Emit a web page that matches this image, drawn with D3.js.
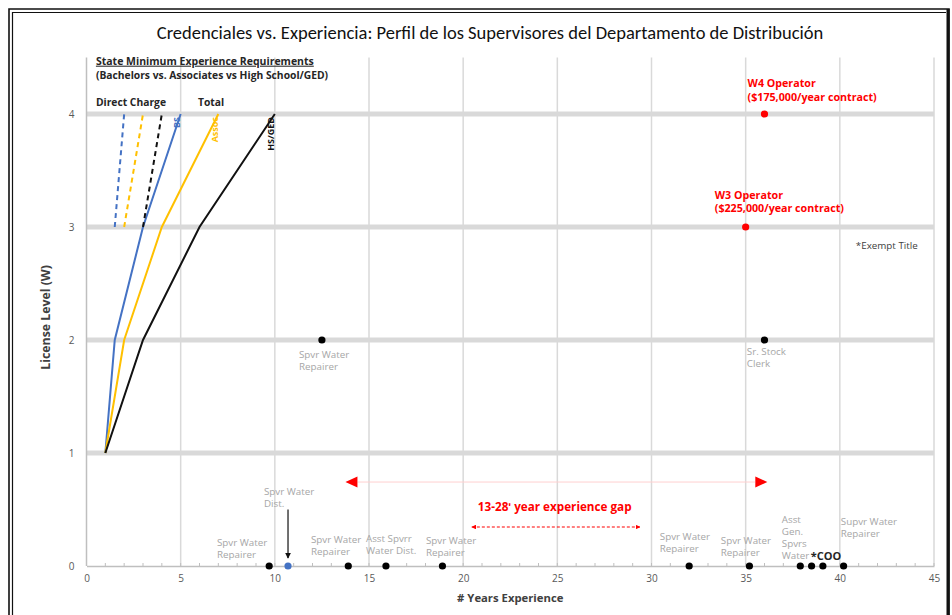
<!DOCTYPE html>
<html>
<head>
<meta charset="utf-8">
<script src="https://cdn.jsdelivr.net/npm/d3@7"></script>
<style>
  body { margin: 0; background: #fff; }
  svg text { font-family: "Open Sans", sans-serif; }
</style>
</head>
<body>
<div id="chart"></div>
<script>
// ---- data ----
var xTicks = [0, 5, 10, 15, 20, 25, 30, 35, 40, 45];
var yTicks = [0, 1, 2, 3, 4];

// total years needed per license level (solid lines)
var levels = [1, 2, 3, 4];
var bachelorsTotal = [1, 1.5, 3, 5];
var associatesTotal = [1, 2, 4, 7];
var hsGedTotal = [1, 3, 6, 10];

// direct charge (dashed lines, level 3 -> 4)
var dcLevels = [3, 4];
var bachelorsDirect = [1.5, 2];
var associatesDirect = [2, 3];
var hsGedDirect = [3, 4];

// supervisors: years of experience and license level
var supYears = [9.7, 10.7, 13.9, 15.9, 18.9, 32, 35.2, 37.9, 38.5, 39.1, 40.2, 12.5, 36];
var supLevel = [0, 0, 0, 0, 0, 0, 0, 0, 0, 0, 0, 2, 2];
var supColor = ["#000", "#4472c4", "#000", "#000", "#000", "#000", "#000", "#000", "#000", "#000", "#000", "#000", "#000"];

// contract operators
var opYears = [36, 35];
var opLevel = [4, 3];

var w = 952, h = 615;

var svg = d3.select("#chart").append("svg")
  .attr("width", w)
  .attr("height", h);

var xScale = d3.scaleLinear().domain([0, 45]).range([86.5, 934]);
var yScale = d3.scaleLinear().domain([0, 4.5]).range([566, 57.5]);

// frame
svg.append("path").attr("d", "M9,615 V9 H949 V615").attr("fill", "none").attr("stroke", "#111").attr("stroke-width", 1.6);
svg.append("path").attr("d", "M12.5,615 V12.5 H946").attr("fill", "none").attr("stroke", "#111").attr("stroke-width", 1.2);
svg.append("line").attr("x1", 948).attr("x2", 948).attr("y1", 9).attr("y2", 615).attr("stroke", "#111").attr("stroke-width", 3);

// title
svg.append("text")
  .text("Credenciales vs. Experiencia: Perfil de los Supervisores del Departamento de Distribución")
  .attr("x", 490).attr("y", 39)
  .attr("text-anchor", "middle")
  .style("font-family", "Carlito, 'Open Sans', sans-serif")
  .attr("font-size", "18.5px")
  .attr("fill", "#111");

// vertical grid
svg.append("g").selectAll("line").data(xTicks.slice(1)).enter().append("line")
  .attr("x1", function(d) { return xScale(d); })
  .attr("x2", function(d) { return xScale(d); })
  .attr("y1", yScale(4.5)).attr("y2", yScale(0))
  .attr("stroke", "#d9d9d9").attr("stroke-width", 1.5);

// horizontal thick grid
svg.append("g").selectAll("line").data(yTicks.slice(1)).enter().append("line")
  .attr("x1", xScale(0)).attr("x2", xScale(45))
  .attr("y1", function(d) { return yScale(d); })
  .attr("y2", function(d) { return yScale(d); })
  .attr("stroke", "#d9d9d9").attr("stroke-width", 5);

// axes
var xAxis = d3.axisBottom(xScale).tickValues(xTicks).tickSize(0).tickPadding(9);
var gx = svg.append("g").attr("transform", "translate(0," + yScale(0) + ")").call(xAxis);
gx.select(".domain").attr("stroke", "#bfbfbf").attr("stroke-width", 1.5);
gx.selectAll("text").attr("font-size", "10px").attr("fill", "#595959");

// minor ticks pointing up
svg.append("g").selectAll("line").data(d3.range(0, 46)).enter().append("line")
  .attr("x1", function(d) { return xScale(d); })
  .attr("x2", function(d) { return xScale(d); })
  .attr("y1", yScale(0)).attr("y2", yScale(0) - 3)
  .attr("stroke", "#bfbfbf").attr("stroke-width", 1);

var yAxis = d3.axisLeft(yScale).tickValues(yTicks).tickFormat(d3.format("d")).tickSize(0).tickPadding(12);
var gy = svg.append("g").attr("transform", "translate(" + xScale(0) + ",0)").call(yAxis);
gy.select(".domain").attr("stroke", "#bfbfbf").attr("stroke-width", 1.5).attr("d", "M0," + yScale(4.5) + "V" + yScale(0));
gy.selectAll("text").attr("font-size", "10px").attr("fill", "#595959");

// axis titles
svg.append("text").text("# Years Experience")
  .attr("x", xScale(22.5)).attr("y", 602)
  .attr("text-anchor", "middle").attr("font-size", "11.3px").attr("font-weight", "bold").attr("fill", "#404040");
svg.append("text").text("License Level (W)")
  .attr("transform", "translate(50," + yScale(2.2) + ") rotate(-90)")
  .attr("text-anchor", "middle").attr("font-size", "12.3px").attr("font-weight", "bold").attr("fill", "#404040");

// requirement lines
var line = d3.line().x(function(d) { return xScale(d[0]); }).y(function(d) { return yScale(d[1]); });
var series = [
  { x: bachelorsTotal, y: levels, c: "#4472c4", dash: null },
  { x: associatesTotal, y: levels, c: "#ffc000", dash: null },
  { x: hsGedTotal, y: levels, c: "#111", dash: null },
  { x: bachelorsDirect, y: dcLevels, c: "#4472c4", dash: "5,4" },
  { x: associatesDirect, y: dcLevels, c: "#ffc000", dash: "5,4" },
  { x: hsGedDirect, y: dcLevels, c: "#111", dash: "5,4" }
];
series.forEach(function(s) {
  svg.append("path")
    .datum(d3.zip(s.x, s.y))
    .attr("d", line)
    .attr("fill", "none")
    .attr("stroke", s.c)
    .attr("stroke-width", 2)
    .attr("stroke-dasharray", s.dash);
});

// rotated series labels
var seriesNames = ["BS", "Assoc", "HS/GED"];
var seriesEnds = [bachelorsTotal[3], associatesTotal[3], hsGedTotal[3]];
var seriesColors = ["#4472c4", "#ffc000", "#111"];
seriesNames.forEach(function(n, i) {
  svg.append("text").text(n)
    .attr("transform", "translate(" + (xScale(seriesEnds[i]) - 0.5) + "," + (yScale(4) + 3) + ") rotate(-90)")
    .attr("text-anchor", "end")
    .attr("font-size", "9px").attr("font-weight", "bold")
    .attr("fill", seriesColors[i]);
});

// annotation helper: position in data units
function label(lines, x, y, opts) {
  var t = svg.append("text")
    .attr("x", xScale(x)).attr("y", yScale(y))
    .attr("font-size", opts.size || "9.8px")
    .attr("font-weight", opts.weight || "normal")
    .attr("fill", opts.fill || "#a6a6a6");
  lines.forEach(function(l, i) {
    t.append("tspan").attr("x", xScale(x)).attr("dy", i === 0 ? "0.35em" : (opts.lh || 12)).text(l);
  });
  return t;
}
label(["State Minimum Experience Requirements"], 0.5, 4.469, { weight: "bold", fill: "#262626", size: "10.5px" })
  .attr("text-decoration", "underline");
label(["(Bachelors vs. Associates vs High School/GED)"], 0.5, 4.345, { weight: "bold", fill: "#262626", size: "10.3px" });
label(["Direct Charge"], 0.5, 4.1, { weight: "bold", fill: "#262626", size: "10.3px" });
label(["Total"], 5.92, 4.1, { weight: "bold", fill: "#262626", size: "10.3px" });

// supervisor labels
label(["Spvr Water", "Repairer"], 6.93, 0.204, {});
label(["Spvr Water", "Dist."], 9.42, 0.655, {});
label(["Spvr Water", "Repairer"], 11.92, 0.23, {});
label(["Asst Spvrr", "Water Dist."], 14.84, 0.239, {});
label(["Spvr Water", "Repairer"], 18.02, 0.221, {});
label(["Spvr Water", "Repairer"], 30.44, 0.257, {});
label(["Spvr Water", "Repairer"], 33.68, 0.221, {});
label(["Asst", "Gen.", "Spvrs", "Water"], 36.92, 0.407, {});
label(["Supvr Water", "Repairer"], 40.05, 0.389, {});
label(["Spvr Water", "Repairer"], 11.28, 1.867, {});
label(["Sr. Stock", "Clerk"], 35.06, 1.894, {});
label(["*COO"], 38.46, 0.088, { weight: "bold", fill: "#262626", size: "11px" });
label(["*Exempt Title"], 40.85, 2.832, { fill: "#404040", size: "9.8px" });

// operator labels
label(["W4 Operator", "($175,000/year contract)"], 35.1, 4.274, { weight: "bold", fill: "#ff0000", size: "10.7px", lh: 14 });
label(["W3 Operator", "($225,000/year contract)"], 33.36, 3.283, { weight: "bold", fill: "#ff0000", size: "10.7px", lh: 13 });

// arrow markers
var defs = svg.append("defs");
defs.append("marker").attr("id", "arrBlack").attr("viewBox", "0 0 10 10")
  .attr("refX", 9).attr("refY", 5).attr("markerWidth", 5).attr("markerHeight", 5).attr("orient", "auto")
  .append("path").attr("d", "M0,0 L10,5 L0,10 Z").attr("fill", "#111");
defs.append("marker").attr("id", "arrRed").attr("viewBox", "0 0 10 10")
  .attr("refX", 9).attr("refY", 5).attr("markerWidth", 4).attr("markerHeight", 4).attr("orient", "auto-start-reverse")
  .append("path").attr("d", "M0,0 L10,5 L0,10 Z").attr("fill", "#ff0000");

// arrow to the blue point
svg.append("line")
  .attr("x1", xScale(10.7)).attr("x2", xScale(10.7))
  .attr("y1", yScale(0.5)).attr("y2", yScale(0.07))
  .attr("stroke", "#111").attr("stroke-width", 1.2)
  .attr("marker-end", "url(#arrBlack)");

// experience gap arrows
var gapFrom = 14.4, gapTo = 35.5, gapLevel = 0.743;
svg.append("line")
  .attr("x1", xScale(gapFrom)).attr("x2", xScale(gapTo))
  .attr("y1", yScale(gapLevel)).attr("y2", yScale(gapLevel))
  .attr("stroke", "#ffd0d0").attr("stroke-width", 1);
svg.append("path")
  .attr("d", "M" + xScale(gapFrom - 0.65) + "," + yScale(gapLevel) + " l12,-5.5 v11 Z")
  .attr("fill", "#ff0000");
svg.append("path")
  .attr("d", "M" + xScale(gapTo + 0.65) + "," + yScale(gapLevel) + " l-12,-5.5 v11 Z")
  .attr("fill", "#ff0000");

svg.append("line")
  .attr("x1", xScale(20.46)).attr("x2", xScale(29.38))
  .attr("y1", yScale(0.345)).attr("y2", yScale(0.345))
  .attr("stroke", "#ff0000").attr("stroke-width", 1.2).attr("stroke-dasharray", "3,2")
  .attr("marker-start", "url(#arrRed)").attr("marker-end", "url(#arrRed)");
label(["13-28ʹ year experience gap"], 20.78, 0.522, { weight: "bold", fill: "#ff0000", size: "11.7px" });

// points
svg.append("g").selectAll("circle").data(d3.zip(supYears, supLevel, supColor)).enter().append("circle")
  .attr("cx", function(d) { return xScale(d[0]); })
  .attr("cy", function(d) { return yScale(d[1]); })
  .attr("r", 3.6)
  .attr("fill", function(d) { return d[2]; });

svg.append("g").selectAll("circle").data(d3.zip(opYears, opLevel)).enter().append("circle")
  .attr("cx", function(d) { return xScale(d[0]); })
  .attr("cy", function(d) { return yScale(d[1]); })
  .attr("r", 3.6)
  .attr("fill", "#ff0000");
</script>
</body>
</html>
